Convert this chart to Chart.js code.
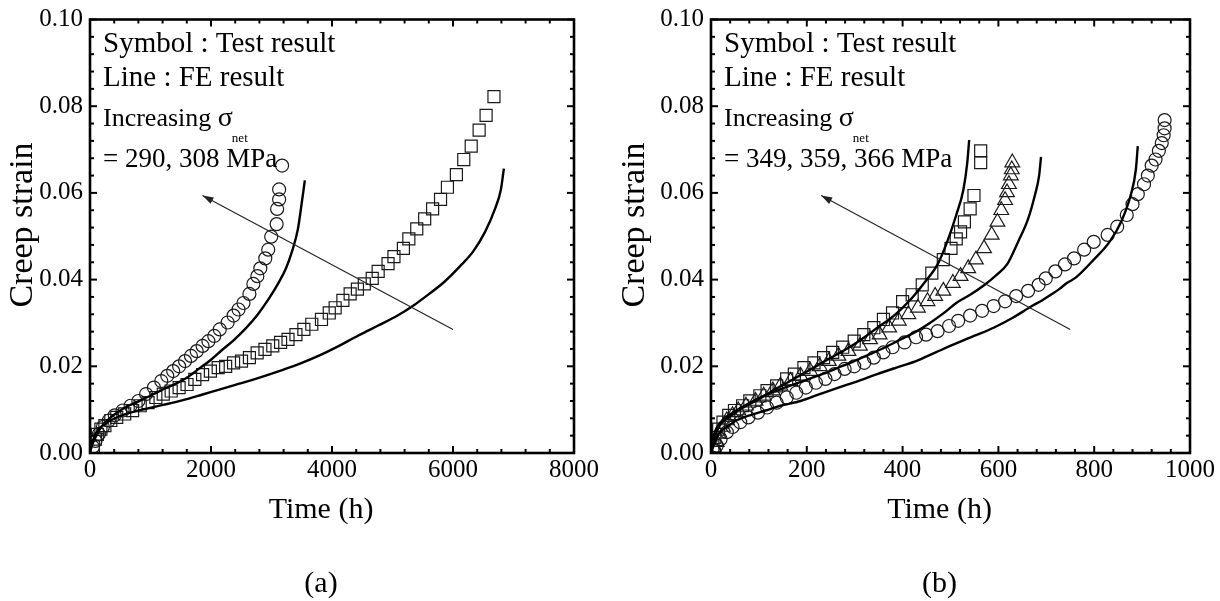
<!DOCTYPE html>
<html><head><meta charset="utf-8">
<script src="https://cdn.jsdelivr.net/npm/chart.js@4.4.1/dist/chart.umd.min.js"></script>
<style>
html,body{margin:0;padding:0;background:#fff;width:1220px;height:601px;overflow:hidden}
canvas{position:absolute;top:0}
#ca{left:0}#cb{left:610px}
</style></head><body>
<canvas id="ca" width="610" height="601"></canvas>
<canvas id="cb" width="610" height="601"></canvas>
<script>
// ---------- Panel (a): sigma_net = 290, 308 MPa ----------
const aXTicks = [0, 2000, 4000, 6000, 8000];
const aYTicks = [0.00, 0.02, 0.04, 0.06, 0.08, 0.10];
// Test, 308 MPa (circles)
const aC308_t = [49,90,147,213,311,409,540,671,799,927,1056,1178,1277,1375,1473,1571,1669,1764,1861,1957,2054,2144,2275,2373,2455,2537,2635,2700,2766,2815,2897,2946,2995,3085,3093,3126,3126,3175];
const aC308_s = [0.0014,0.0028,0.0044,0.006,0.0075,0.0087,0.0098,0.0109,0.012,0.0136,0.0151,0.0166,0.0178,0.0189,0.02,0.0212,0.0224,0.0235,0.0247,0.0258,0.027,0.0285,0.0301,0.0317,0.0331,0.0346,0.0367,0.039,0.0408,0.0426,0.0449,0.0469,0.0499,0.0528,0.0563,0.0585,0.0608,0.0663];
// Test, 290 MPa (squares)
const aS290_t = [57,90,121,180,246,344,442,573,704,830,960,1088,1211,1342,1473,1604,1733,1861,1990,2119,2242,2373,2504,2635,2763,2892,3021,3150,3273,3404,3535,3666,3826,3955,4052,4180,4300,4420,4534,4665,4763,4926,5024,5180,5270,5401,5532,5663,5794,5908,6056,6178,6301,6432,6547,6677];
const aS290_s = [0.0014,0.0032,0.0043,0.0055,0.0063,0.0075,0.0082,0.009,0.0098,0.0109,0.0116,0.0128,0.0136,0.0143,0.0151,0.0158,0.017,0.0181,0.0189,0.0197,0.02,0.0208,0.0212,0.022,0.0231,0.0239,0.0247,0.0255,0.0262,0.0273,0.0285,0.0297,0.0308,0.0323,0.0335,0.0352,0.0367,0.0378,0.039,0.0403,0.0419,0.0437,0.0453,0.0472,0.0494,0.0517,0.054,0.0563,0.0585,0.0613,0.0642,0.0677,0.0708,0.0745,0.0779,0.0822];
// FE, 308 MPa
const aF308_t = [0,25,90,180,311,442,638,830,1023,1211,1407,1604,1797,1990,2177,2373,2570,2763,2957,3118,3240,3339,3437,3502,3551];
const aF308_s = [0,0.0014,0.0036,0.0059,0.0078,0.0093,0.0109,0.0121,0.0134,0.0147,0.0159,0.0174,0.0194,0.0214,0.0237,0.026,0.0287,0.0318,0.0356,0.0393,0.0426,0.0465,0.0517,0.0579,0.0629];
// FE, 290 MPa
const aF290_t = [0,5,57,121,246,442,638,895,1211,1538,1861,2177,2504,2828,3150,3470,3794,4116,4436,4763,5084,5335,5597,5859,6145,6334,6530,6694,6792,6841];
const aF290_s = [0,0.0014,0.0032,0.0051,0.0067,0.0082,0.0092,0.0101,0.0111,0.0122,0.0135,0.0148,0.0161,0.0175,0.019,0.0206,0.0225,0.0247,0.0271,0.0294,0.0317,0.0339,0.0366,0.0395,0.0435,0.0465,0.051,0.0563,0.0608,0.0656];
// Arrow (tail -> head)
const aArrow_t = [6000, 1860];
const aArrow_s = [0.0285, 0.0594];

// ---------- Panel (b): sigma_net = 349, 359, 366 MPa ----------
const bXTicks = [0, 200, 400, 600, 800, 1000];
const bYTicks = [0.00, 0.02, 0.04, 0.06, 0.08, 0.10];
// Test, 366 MPa (squares)
const bS366_t = [4,8,16,25,37,49,66,81,102,117,137,158,174,194,215,235,254,275,299,319,340,360,379,400,420,441,461,485,501,512,521,529,541,549,563,563];
const bS366_s = [0.0014,0.0036,0.0055,0.0071,0.0087,0.0098,0.0109,0.012,0.0132,0.0144,0.0155,0.0171,0.0182,0.0197,0.0208,0.022,0.0232,0.0244,0.0258,0.0273,0.0289,0.0308,0.0323,0.0349,0.0365,0.0388,0.0415,0.0446,0.0472,0.0494,0.051,0.0533,0.0563,0.0594,0.067,0.0697];
// Test, 359 MPa (triangles)
const bT359_t = [8,12,16,25,33,45,57,73,93,110,129,145,166,187,207,227,246,266,287,311,332,352,372,392,412,432,452,468,485,505,521,537,553,570,586,598,606,614,618,622,626,628,629];
const bT359_s = [0.0009,0.0025,0.0044,0.006,0.0075,0.0087,0.0098,0.0109,0.012,0.0132,0.0144,0.0155,0.0166,0.0178,0.0189,0.02,0.0212,0.0224,0.0235,0.0247,0.0262,0.0273,0.0289,0.0305,0.032,0.0335,0.035,0.0362,0.0374,0.0392,0.0408,0.0426,0.0446,0.0472,0.0503,0.0533,0.056,0.0583,0.0601,0.062,0.064,0.0654,0.067];
// Test, 349 MPa (circles)
const bC349_t = [7,12,20,33,45,61,78,98,117,137,158,178,198,219,239,258,279,299,320,340,360,379,404,428,449,473,497,516,541,566,590,614,637,662,684,699,719,739,758,779,799,828,848,868,880,891,904,912,920,928,935,941,945,947,947];
const bC349_s = [0.0005,0.0017,0.0032,0.0048,0.006,0.0071,0.0082,0.0093,0.0105,0.0116,0.0128,0.0139,0.0151,0.0162,0.0171,0.0182,0.0194,0.02,0.0208,0.022,0.0232,0.0244,0.0255,0.0267,0.0273,0.0281,0.0293,0.0305,0.0317,0.0328,0.0339,0.035,0.0362,0.0374,0.0388,0.0403,0.0419,0.0435,0.0449,0.0469,0.0487,0.0503,0.0522,0.0549,0.0574,0.0597,0.062,0.064,0.0663,0.0677,0.0697,0.0715,0.0733,0.0749,0.0768];
// FE, 366 MPa
const bF366_t = [0,2,10,20,37,57,81,106,129,154,178,202,227,251,275,299,324,347,372,396,420,445,473,493,512,527,535,539];
const bF366_s = [0,0.0014,0.0044,0.0067,0.0082,0.0098,0.0113,0.0128,0.0144,0.0159,0.0174,0.0189,0.0205,0.022,0.0235,0.0251,0.027,0.0289,0.0308,0.0331,0.0358,0.0392,0.0435,0.0487,0.0549,0.0608,0.067,0.0722];
// FE, 359 MPa
const bF359_t = [0,2,8,20,37,57,81,110,137,170,202,235,266,299,332,364,396,428,457,485,512,541,570,595,618,641,662,676,685,689];
const bF359_s = [0,0.0017,0.0048,0.0071,0.0087,0.0101,0.0116,0.0132,0.0144,0.0157,0.017,0.0183,0.0197,0.0212,0.0228,0.0244,0.0262,0.028,0.03,0.0322,0.0346,0.0365,0.0387,0.041,0.0435,0.0487,0.054,0.0594,0.064,0.0683];
// FE, 349 MPa
const bF349_t = [0,7,16,33,53,81,114,145,187,227,266,307,347,387,428,469,508,549,590,630,670,691,711,727,743,762,799,832,856,876,887,891];
const bF349_s = [0,0.0021,0.0044,0.006,0.0075,0.0087,0.0098,0.0109,0.012,0.0136,0.0151,0.0166,0.0182,0.0197,0.0212,0.0232,0.0251,0.027,0.0289,0.0312,0.0339,0.0352,0.0366,0.0378,0.0392,0.0405,0.0446,0.0487,0.0533,0.0594,0.0654,0.0708];
// Arrow (tail -> head)
const bArrow_t = [750, 230];
const bArrow_s = [0.0285, 0.0594];

// ---------- helpers ----------
const FONT = '"Liberation Serif", "Times New Roman", serif';
const pts = (t, s) => t.map((v, i) => ({x: v, y: s[i]}));

function markerSet(t, s, style, r) {
  return {type: 'scatter', data: pts(t, s), showLine: false, pointStyle: style, pointRadius: r, pointHoverRadius: r,
    pointBorderColor: '#1a1a1a', pointBackgroundColor: 'rgba(0,0,0,0)', pointBorderWidth: 1.2, order: 2};
}
function lineSet(t, s) {
  return {type: 'scatter', data: pts(t, s), showLine: true, pointRadius: 0, borderColor: '#000', borderWidth: 2.4,
    cubicInterpolationMode: 'monotone', fill: false, order: 1};
}
function arrowSet(t, s) {
  return {type: 'scatter', data: pts(t, s), showLine: true, pointRadius: 0, borderColor: '#222', borderWidth: 1.1,
    fill: false, order: 0, isArrow: true};
}

const framePlugin = {
  id: 'frameTicks',
  afterDatasetsDraw(chart, args, o) {
    const {ctx, chartArea: a, scales: {x, y}} = chart;
    ctx.save();
    ctx.strokeStyle = '#000';
    ctx.lineWidth = 2;
    const seg = (x1, y1, x2, y2) => { ctx.beginPath(); ctx.moveTo(x1, y1); ctx.lineTo(x2, y2); ctx.stroke(); };
    const nx = Math.round(o.xMax / o.xMinor);
    for (let i = 0; i <= nx; i++) {
      const v = i * o.xMinor;
      const px = x.getPixelForValue(v);
      const L = (i % o.xEvery === 0) ? 7 : 4;
      seg(px, a.bottom, px, a.bottom - L);
      seg(px, a.top, px, a.top + L);
    }
    const ny = Math.round(o.yMax / o.yMinor);
    for (let i = 0; i <= ny; i++) {
      const v = i * o.yMinor;
      const py = y.getPixelForValue(v);
      const L = (i % o.yEvery === 0) ? 7 : 4;
      seg(a.left, py, a.left + L, py);
      seg(a.right, py, a.right - L, py);
    }
    ctx.lineWidth = 2.6;
    ctx.strokeRect(a.left, a.top, a.right - a.left, a.bottom - a.top);
    // arrow head
    chart.data.datasets.forEach((ds, di) => {
      if (!ds.isArrow) return;
      const m = chart.getDatasetMeta(di).data;
      const p0 = m[0], p1 = m[1];
      const ang = Math.atan2(p1.y - p0.y, p1.x - p0.x);
      const len = 11, hw = 3.6;
      ctx.fillStyle = '#222';
      ctx.beginPath();
      ctx.moveTo(p1.x, p1.y);
      ctx.lineTo(p1.x - len * Math.cos(ang) + hw * Math.sin(ang), p1.y - len * Math.sin(ang) - hw * Math.cos(ang));
      ctx.lineTo(p1.x - len * Math.cos(ang) - hw * Math.sin(ang), p1.y - len * Math.sin(ang) + hw * Math.cos(ang));
      ctx.closePath();
      ctx.fill();
    });
    ctx.restore();
  },
  afterDraw(chart, args, o) {
    const {ctx, chartArea: a} = chart;
    ctx.save();
    ctx.fillStyle = '#000';
    // annotation text
    const tx = a.left + 13;
    ctx.textAlign = 'left';
    ctx.textBaseline = 'alphabetic';
    ctx.font = '29px ' + FONT;
    ctx.fillText('Symbol : Test result', tx, 52);
    ctx.fillText('Line : FE result', tx, 86);
    ctx.font = '26px ' + FONT;
    const inc = 'Increasing ';
    ctx.fillText(inc, tx, 126);
    const w1 = ctx.measureText(inc).width;
    ctx.font = '28px ' + FONT;
    ctx.fillText('\u03C3', tx + w1, 126);
    const w2 = ctx.measureText('\u03C3').width;
    ctx.font = '27px ' + FONT;
    ctx.fillText(o.stress, tx, 167);
    ctx.font = '13px ' + FONT;
    ctx.fillText('net', tx + w1 + w2 - 1, 142);
    // axis titles
    ctx.font = '30px ' + FONT;
    ctx.textAlign = 'center';
    ctx.fillText('Time (h)', (a.left + a.right) / 2 - 11, 518);
    ctx.fillText(o.panel, (a.left + a.right) / 2 - 11, 592);
    ctx.save();
    ctx.translate(o.yTitleX, 225);
    ctx.rotate(-Math.PI / 2);
    ctx.font = '34px ' + FONT;
    ctx.textBaseline = 'middle';
    ctx.fillText('Creep strain', 0, 0);
    ctx.restore();
    ctx.restore();
  }
};

function makeChart(id, datasets, xTicks, yTicks, yWidth, padRight, extra) {
  return new Chart(document.getElementById(id), {
    type: 'scatter',
    data: {datasets},
    options: {
      responsive: false, animation: false, devicePixelRatio: 1,
      layout: {padding: {top: 13, right: padRight, left: 0, bottom: 0}},
      plugins: {legend: {display: false}, tooltip: {enabled: false}, frameTicks: extra},
      scales: {
        x: {type: 'linear', min: xTicks[0], max: xTicks[xTicks.length - 1],
          afterBuildTicks: s => { s.ticks = xTicks.map(v => ({value: v})); },
          afterFit: s => { s.height = 148; },
          grid: {display: false, drawTicks: false}, border: {display: false},
          ticks: {autoSkip: false, maxRotation: 0, padding: 5, color: '#000', font: {family: FONT, size: 25, lineHeight: 1},
            callback: v => String(v)}},
        y: {type: 'linear', min: yTicks[0], max: yTicks[yTicks.length - 1],
          afterBuildTicks: s => { s.ticks = yTicks.map(v => ({value: v})); },
          afterFit: s => { s.width = yWidth; },
          grid: {display: false, drawTicks: false}, border: {display: false},
          ticks: {autoSkip: false, padding: 7, color: '#000', font: {family: FONT, size: 25, lineHeight: 1},
            callback: v => Number(v).toFixed(2)}}
      }
    },
    plugins: [framePlugin]
  });
}

makeChart('ca', [
  lineSet(aF308_t, aF308_s),
  lineSet(aF290_t, aF290_s),
  markerSet(aC308_t, aC308_s, 'circle', 6.5),
  markerSet(aS290_t, aS290_s, 'rect', 8.5),
  arrowSet(aArrow_t, aArrow_s)
], aXTicks, aYTicks, 90, 36,
  {xMax: 8000, xMinor: 400, xEvery: 5, yMax: 0.1, yMinor: 0.004, yEvery: 5,
   stress: '= 290, 308 MPa', panel: '(a)', yTitleX: 23});

makeChart('cb', [
  lineSet(bF366_t, bF366_s),
  lineSet(bF359_t, bF359_s),
  lineSet(bF349_t, bF349_s),
  markerSet(bC349_t, bC349_s, 'circle', 6.5),
  markerSet(bT359_t, bT359_s, 'triangle', 8.5),
  markerSet(bS366_t, bS366_s, 'rect', 8.5),
  arrowSet(bArrow_t, bArrow_s)
], bXTicks, bYTicks, 101, 25,
  {xMax: 1000, xMinor: 40, xEvery: 5, yMax: 0.1, yMinor: 0.004, yEvery: 5,
   stress: '= 349, 359, 366 MPa', panel: '(b)', yTitleX: 25});
</script>
</body></html>
